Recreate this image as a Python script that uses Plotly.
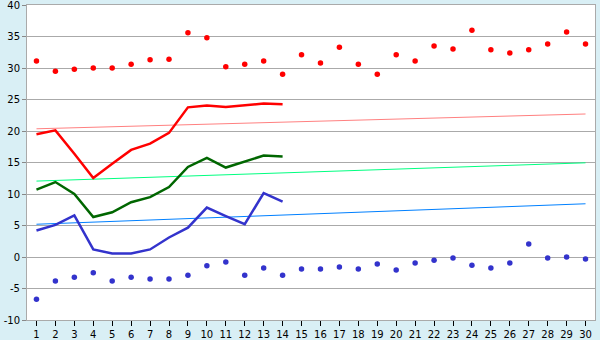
import plotly.graph_objects as go

days = list(range(1, 31))

max_pts = [31.1, 29.5, 29.8, 30.0, 30.0, 30.6, 31.3, 31.4, 35.6, 34.8,
           30.2, 30.6, 31.1, 29.0, 32.1, 30.8, 33.3, 30.6, 29.0, 32.1,
           31.1, 33.5, 33.0, 36.0, 32.9, 32.4, 32.9, 33.8, 35.7, 33.8]
min_pts = [-6.7, -3.8, -3.2, -2.5, -3.8, -3.2, -3.5, -3.5, -2.9, -1.4,
           -0.8, -2.9, -1.75, -2.9, -1.9, -1.9, -1.6, -1.9, -1.1, -2.05,
           -0.95, -0.5, -0.15, -1.3, -1.75, -0.95, 2.05, -0.15, 0.0, -0.3]

line_days = list(range(1, 15))
red_line = [19.5, 20.1, 16.4, 12.55, 14.8, 17.0, 18.0, 19.7, 23.75, 24.05,
            23.8, 24.1, 24.35, 24.25]
green_line = [10.7, 11.9, 10.0, 6.35, 7.1, 8.7, 9.5, 11.1, 14.3, 15.75,
              14.2, 15.1, 16.1, 15.95]
blue_line = [4.2, 5.1, 6.6, 1.2, 0.55, 0.55, 1.2, 3.1, 4.65, 7.85,
             6.5, 5.2, 10.15, 8.8]

trend_days = [1, 30]
red_trend = [20.35, 22.7]
green_trend = [12.05, 14.95]
blue_trend = [5.2, 8.45]

y_ticks = [-10, -5, 0, 5, 10, 15, 20, 25, 30, 35, 40]
y_labels = ["-10", "-5", "0", "5", "10", "15", "20", "25", "30", "35", "40"]

fig = go.Figure()

fig.add_trace(go.Scatter(x=trend_days, y=red_trend, mode="lines",
                         line=dict(color="#ff8080", width=1)))
fig.add_trace(go.Scatter(x=trend_days, y=green_trend, mode="lines",
                         line=dict(color="#00ff80", width=1)))
fig.add_trace(go.Scatter(x=trend_days, y=blue_trend, mode="lines",
                         line=dict(color="#0080ff", width=1)))

fig.add_trace(go.Scatter(x=line_days, y=red_line, mode="lines",
                         line=dict(color="#ff0000", width=2.5)))
fig.add_trace(go.Scatter(x=line_days, y=green_line, mode="lines",
                         line=dict(color="#006600", width=2.5)))
fig.add_trace(go.Scatter(x=line_days, y=blue_line, mode="lines",
                         line=dict(color="#3333cc", width=2.5)))

fig.add_trace(go.Scatter(x=days, y=max_pts, mode="markers",
                         marker=dict(color="#ff0000", symbol="circle", size=5.5,
                                     line=dict(width=0))))
fig.add_trace(go.Scatter(x=days, y=min_pts, mode="markers",
                         marker=dict(color="#3333cc", symbol="circle", size=5.5,
                                     line=dict(width=0))))

fig.update_layout(
    width=600, height=340,
    margin=dict(l=27, r=5, t=5, b=20),
    paper_bgcolor="#d9eff5",
    plot_bgcolor="#ffffff",
    showlegend=False,
    font=dict(family="DejaVu Sans", size=10, color="#000000"),
    xaxis=dict(range=[0.5, 30.5], tickmode="array", tickvals=days,
               ticktext=[str(d) for d in days], automargin=False,
               ticklabeloverflow="allow",
               showgrid=False, zeroline=False,
               showline=True, linecolor="#aaaaaa", linewidth=1, mirror=True,
               ticks="outside", ticklen=5, tickcolor="#000000"),
    yaxis=dict(range=[-10, 40], tickmode="array", tickvals=y_ticks,
               ticktext=y_labels, automargin=False,
               ticklabeloverflow="allow",
               showgrid=True, gridcolor="#aaaaaa", gridwidth=1, zeroline=False,
               showline=True, linecolor="#aaaaaa", linewidth=1, mirror=True,
               ticks="outside", ticklen=4, tickcolor="#888888"),
)

fig.write_html("out.html")
